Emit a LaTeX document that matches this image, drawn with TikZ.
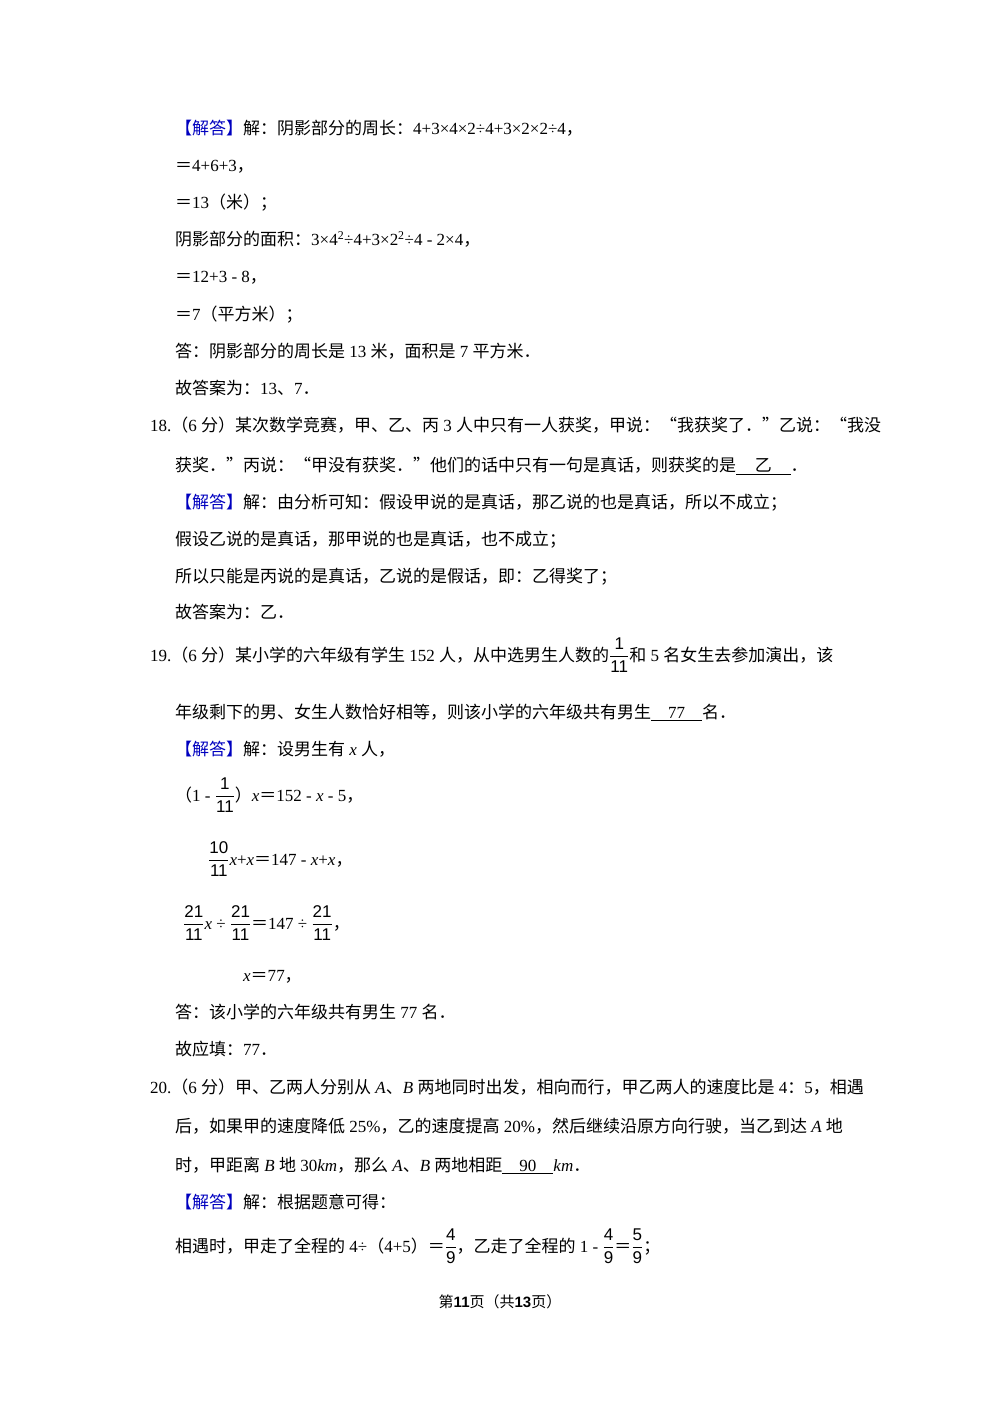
\documentclass[tikz,border=0pt]{standalone}
\usepackage{fontspec}
\setmainfont{Liberation Serif}
\setsansfont{Liberation Sans}
\newfontfamily\cjk{Noto Sans CJK SC}
\newXeTeXintercharclass\cjkcl
\newcount\cc
\cc="3000 \loop\ifnum\cc<"3040 \XeTeXcharclass\cc=\cjkcl \advance\cc1 \repeat
\cc="4E00 \loop\ifnum\cc<"A000 \XeTeXcharclass\cc=\cjkcl \advance\cc1 \repeat
\cc="FF00 \loop\ifnum\cc<"FFF0 \XeTeXcharclass\cc=\cjkcl \advance\cc1 \repeat
\XeTeXcharclass"201C=\cjkcl \XeTeXcharclass"201D=\cjkcl
\XeTeXinterchartoks 0 \cjkcl = {\cjk}
\XeTeXinterchartoks 4095 \cjkcl = {\cjk}
\XeTeXinterchartoks \cjkcl 0 = {\rmfamily}
\XeTeXinterchartoks \cjkcl 4095 = {\rmfamily}
\XeTeXinterchartokenstate=1
\newcommand\fr[2]{$\dfrac{\textsf{#1}}{\textsf{#2}}$}
\newcommand\jd{\textcolor{blue!75!black}{【解答】}}
\usepackage{amsmath}
\tikzset{ln/.style={anchor=base west,inner sep=0pt,font=\fontsize{17}{20}\selectfont}}
\begin{document}
\begin{tikzpicture}[x=1pt,y=-1pt]
\useasboundingbox[fill=white] (0,0) rectangle (1000,1415);
\node[ln] (l1) at (175,135) {\jd 解：阴影部分的周长：4+3×4×2÷4+3×2×2÷4，};
\node[ln] (l2) at (175,172) {＝4+6+3，};
\node[ln] (l3) at (175,209) {＝13（米）；};
\node[ln] (l4) at (175,246) {阴影部分的面积：3×4\textsuperscript{2}÷4+3×2\textsuperscript{2}÷4 - 2×4，};
\node[ln] (l5) at (175,283) {＝12+3 - 8，};
\node[ln] (l6) at (175,320) {＝7（平方米）；};
\node[ln] (l7) at (175,357) {答：阴影部分的周长是 13 米，面积是 7 平方米．};
\node[ln] (l8) at (175,394) {故答案为：13、7．};
\node[ln] (l9) at (150,431) {18.（6 分）某次数学竞赛，甲、乙、丙 3 人中只有一人获奖，甲说：“我获奖了．”乙说：“我没};
\node[ln] (l10) at (175,471) {获奖．”丙说：“甲没有获奖．”他们的话中只有一句是真话，则获奖的是\underline{\hspace{1.1em}乙\hspace{1.1em}}．};
\node[ln] (l11) at (175,508) {\jd 解：由分析可知：假设甲说的是真话，那乙说的也是真话，所以不成立；};
\node[ln] (l12) at (175,545) {假设乙说的是真话，那甲说的也是真话，也不成立；};
\node[ln] (l13) at (175,582) {所以只能是丙说的是真话，乙说的是假话，即：乙得奖了；};
\node[ln] (l14) at (175,618) {故答案为：乙．};
\node[ln] (l15) at (150,661) {19.（6 分）某小学的六年级有学生 152 人，从中选男生人数的\fr{1}{11}和 5 名女生去参加演出，该};
\node[ln] (l16) at (175,718) {年级剩下的男、女生人数恰好相等，则该小学的六年级共有男生\underline{\hspace{1em}77\hspace{1em}}名．};
\node[ln] (l17) at (175,755) {\jd 解：设男生有 \textit{x} 人，};
\node[ln] (l18) at (175,801) {（1 - \fr{1}{11}）\textit{x}＝152 - \textit{x} - 5，};
\node[ln] (l19) at (208,865) {\fr{10}{11}\textit{x}+\textit{x}＝147 - \textit{x}+\textit{x}，};
\node[ln] (l20) at (183,929) {\fr{21}{11}\textit{x} ÷ \fr{21}{11}＝147 ÷ \fr{21}{11}，};
\node[ln] (l21) at (243,981) {\textit{x}＝77，};
\node[ln] (l22) at (175,1018) {答：该小学的六年级共有男生 77 名．};
\node[ln] (l23) at (175,1055) {故应填：77．};
\node[ln] (l24) at (150,1093) {20.（6 分）甲、乙两人分别从 \textit{A}、\textit{B} 两地同时出发，相向而行，甲乙两人的速度比是 4：5，相遇};
\node[ln] (l25) at (175,1132) {后，如果甲的速度降低 25\%，乙的速度提高 20\%，然后继续沿原方向行驶，当乙到达 \textit{A} 地};
\node[ln] (l26) at (175,1171) {时，甲距离 \textit{B} 地 30\textit{km}，那么 \textit{A}、\textit{B} 两地相距\underline{\hspace{1em}90\hspace{1em}}\textit{km}．};
\node[ln] (l27) at (175,1208) {\jd 解：根据题意可得：};
\node[ln] (l28) at (175,1252) {相遇时，甲走了全程的 4÷（4+5）＝\fr{4}{9}，乙走了全程的 1 - \fr{4}{9}＝\fr{5}{9}；};
\node[anchor=base,inner sep=0pt,font=\fontsize{15}{18}\selectfont] (ft) at (500,1307) {第\textsf{\textbf{11}}页（共\textsf{\textbf{13}}页）};
\end{tikzpicture}
\end{document}
